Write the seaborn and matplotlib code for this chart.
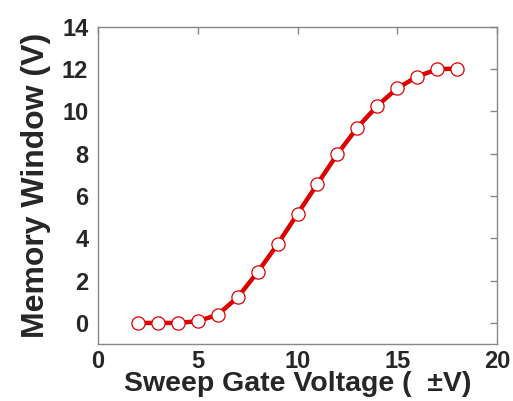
import numpy as np
import pandas as pd
import matplotlib
matplotlib.use("Agg")
import matplotlib.pyplot as plt
import seaborn as sns

# Data
sweep_voltage = [2, 3, 4, 5, 6, 7, 8, 9, 10, 11, 12, 13, 14, 15, 16, 17, 18]
memory_window = [0.0, 0.0, 0.0, 0.08, 0.39, 1.21, 2.40, 3.72, 5.16, 6.58,
                 7.99, 9.24, 10.27, 11.10, 11.65, 12.0, 12.03]
x_ticks = [0, 5, 10, 15, 20]
y_ticks = [0, 2, 4, 6, 8, 10, 12, 14]

df = pd.DataFrame({"Vg": sweep_voltage, "MW": memory_window})

sns.set_style("white")
plt.rcParams['font.family'] = ['Liberation Sans', 'DejaVu Sans']
plt.rcParams['font.weight'] = 'bold'

fig, ax = plt.subplots(figsize=(5.13, 4.01), dpi=100)
fig.subplots_adjust(left=0.191, right=0.969, top=0.933, bottom=0.142)

sns.lineplot(data=df, x="Vg", y="MW", ax=ax, color="#dd0000", linewidth=3.2,
             marker="o", markersize=9.5, markerfacecolor="white",
             markeredgecolor="#dd0000", markeredgewidth=0.9)

ax.set_xlim(0, 20)
ax.set_ylim(-1, 14)
ax.set_xticks(x_ticks)
ax.set_yticks(y_ticks)
ax.tick_params(direction="in", length=5, width=1, color="#888888",
               top=True, right=True, labelsize=17, pad=7)
ax.tick_params(axis="x", pad=4)
for lab in ax.get_xticklabels() + ax.get_yticklabels():
    lab.set_fontweight("bold")
for sp in ax.spines.values():
    sp.set_color("#888888")
    sp.set_linewidth(1)

ax.set_xlabel("Sweep Gate Voltage (  \u00b1V)", fontsize=20.5, fontweight="bold", labelpad=-1)
ax.set_ylabel("Memory Window (V)", fontsize=23, fontweight="bold", labelpad=8)

fig.savefig("out.png", dpi=100)
